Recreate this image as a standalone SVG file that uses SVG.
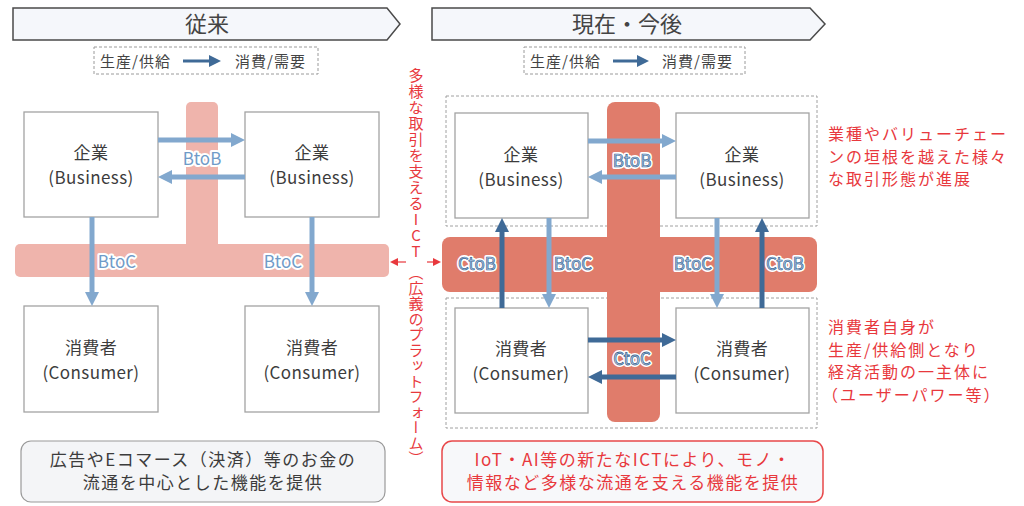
<svg xmlns="http://www.w3.org/2000/svg" width="1024" height="506" viewBox="0 0 1024 506">
<style>
text{font-family:"Noto Sans CJK JP","Noto Sans",sans-serif;}
.hdr{fill:#F5F7FB;stroke:#4a4a4a;stroke-width:1.5;}
.htx{font-size:22px;fill:#444;text-anchor:middle;}
.leg{fill:none;stroke:#9a9a9a;stroke-width:1;stroke-dasharray:3 2;}
.lgt{font-size:15px;fill:#444;letter-spacing:1px;}
.box{fill:#fff;stroke:#a3a3a3;stroke-width:1.3;}
.ntx{font-size:17px;fill:#3c3c3c;text-anchor:middle;letter-spacing:0.4px;}
.dash{fill:none;stroke:#a0a0a0;stroke-width:1;stroke-dasharray:3 2;}
.pink{fill:#EFB4AC;}
.red{fill:#E07C6B;}
.al{stroke:#82A8CE;stroke-width:5;fill:none;}
.ad{stroke:#3F6A97;stroke-width:5;fill:none;}
.lg{stroke:#3F6A97;stroke-width:3;fill:none;}
.halo{font-size:17px;text-anchor:middle;fill:#fff;stroke:#fff;stroke-width:4;stroke-linejoin:round;}
.l1{font-size:17px;text-anchor:middle;fill:#6F9BC8;}
.l2{font-size:17px;text-anchor:middle;fill:#A9C7E6;stroke:#3F6A97;stroke-width:0.7;}
.l3{font-size:17px;text-anchor:middle;fill:#D8E6F3;stroke:#3F6A97;stroke-width:0.8;}
.rt{font-size:16px;fill:#E8383D;letter-spacing:2px;}
.vt{font-size:15px;fill:#E8383D;writing-mode:vertical-rl;text-orientation:upright;}
.bt{font-size:17px;text-anchor:middle;letter-spacing:1.5px;}
</style>
<defs>
<marker id="mL" markerUnits="userSpaceOnUse" markerWidth="14" markerHeight="14" refX="1" refY="7" orient="auto"><path d="M0,0 L14,7 L0,14 z" fill="#82A8CE"/></marker>
<marker id="mD" markerUnits="userSpaceOnUse" markerWidth="14" markerHeight="14" refX="1" refY="7" orient="auto"><path d="M0,0 L14,7 L0,14 z" fill="#3F6A97"/></marker>
<marker id="mG" markerUnits="userSpaceOnUse" markerWidth="12" markerHeight="12" refX="1" refY="6" orient="auto"><path d="M0,0 L12,6 L0,12 z" fill="#3F6A97"/></marker>
<marker id="mR" markerUnits="userSpaceOnUse" markerWidth="8" markerHeight="8" refX="1" refY="4" orient="auto"><path d="M0,0 L8,4 L0,8 z" fill="#E8383D"/></marker>
</defs>

<!-- headers -->
<g id="header-left">
<polygon class="hdr" points="13,8 387,8 400,24 387,40 13,40"/>
<text class="htx" x="207" y="32">従来</text>
</g>
<g id="header-right">
<polygon class="hdr" points="432,8 810,8 825,24 810,40 432,40"/>
<text class="htx" x="627" y="32">現在・今後</text>
</g>

<!-- legends -->
<g id="legend-left">
<rect class="leg" x="94" y="47" width="224" height="27"/>
<text class="lgt" x="100" y="67">生産/供給</text>
<line class="lg" x1="183" y1="61" x2="210" y2="61" marker-end="url(#mG)"/>
<text class="lgt" x="235" y="67">消費/需要</text>
</g>
<g id="legend-right">
<rect class="leg" x="524" y="47" width="221" height="27"/>
<text class="lgt" x="530" y="67">生産/供給</text>
<line class="lg" x1="613" y1="61" x2="638" y2="61" marker-end="url(#mG)"/>
<text class="lgt" x="662" y="67">消費/需要</text>
</g>

<!-- left platform (pink) -->
<g id="platform-left">
<rect class="pink" x="186" y="102" width="32" height="160" rx="5"/>
<rect class="pink" x="15" y="244" width="374" height="33" rx="5"/>
</g>

<!-- right dashed groups and platform -->
<g id="group-business-right"><rect class="dash" x="446" y="96" width="371" height="130"/></g>
<g id="group-consumer-right"><rect class="dash" x="446" y="298" width="371" height="130"/></g>
<g id="platform-right">
<rect class="red" x="607" y="102" width="53" height="320" rx="8"/>
<rect class="red" x="442" y="237" width="375" height="55" rx="8"/>
</g>

<!-- nodes left -->
<g id="biz-l1"><rect class="box" x="24" y="112" width="134" height="105"/><text class="ntx" x="91" y="159">企業</text><text class="ntx" x="91" y="184">(Business)</text></g>
<g id="biz-l2"><rect class="box" x="245" y="112" width="134" height="105"/><text class="ntx" x="312" y="159">企業</text><text class="ntx" x="312" y="184">(Business)</text></g>
<g id="con-l1"><rect class="box" x="24" y="306" width="134" height="106"/><text class="ntx" x="91" y="354">消費者</text><text class="ntx" x="91" y="379">(Consumer)</text></g>
<g id="con-l2"><rect class="box" x="245" y="306" width="134" height="106"/><text class="ntx" x="312" y="354">消費者</text><text class="ntx" x="312" y="379">(Consumer)</text></g>

<!-- nodes right -->
<g id="biz-r1"><rect class="box" x="455" y="113" width="133" height="105"/><text class="ntx" x="521" y="161">企業</text><text class="ntx" x="521" y="186">(Business)</text></g>
<g id="biz-r2"><rect class="box" x="676" y="113" width="133" height="105"/><text class="ntx" x="742" y="161">企業</text><text class="ntx" x="742" y="186">(Business)</text></g>
<g id="con-r1"><rect class="box" x="455" y="308" width="133" height="105"/><text class="ntx" x="521" y="355">消費者</text><text class="ntx" x="521" y="380">(Consumer)</text></g>
<g id="con-r2"><rect class="box" x="676" y="308" width="133" height="105"/><text class="ntx" x="742" y="355">消費者</text><text class="ntx" x="742" y="380">(Consumer)</text></g>

<!-- connectors -->
<g id="connectors">
<line class="al" x1="158" y1="140" x2="232" y2="140" marker-end="url(#mL)"/>
<line class="al" x1="245" y1="177" x2="171" y2="177" marker-end="url(#mL)"/>
<line class="al" x1="92" y1="217" x2="92" y2="293" marker-end="url(#mL)"/>
<line class="al" x1="312" y1="217" x2="312" y2="293" marker-end="url(#mL)"/>

<line class="al" x1="588" y1="141" x2="663" y2="141" marker-end="url(#mL)"/>
<line class="al" x1="676" y1="177" x2="601" y2="177" marker-end="url(#mL)"/>
<line class="ad" x1="502" y1="308" x2="502" y2="231" marker-end="url(#mD)"/>
<line class="al" x1="549" y1="218" x2="549" y2="295" marker-end="url(#mL)"/>
<line class="al" x1="717" y1="218" x2="717" y2="295" marker-end="url(#mL)"/>
<line class="ad" x1="762" y1="308" x2="762" y2="231" marker-end="url(#mD)"/>
<line class="ad" x1="588" y1="340" x2="663" y2="340" marker-end="url(#mD)"/>
<line class="ad" x1="676" y1="377" x2="601" y2="377" marker-end="url(#mD)"/>

<line stroke="#E8383D" stroke-width="1.2" x1="406" y1="262" x2="397" y2="262" marker-end="url(#mR)"/>
<line stroke="#E8383D" stroke-width="1.2" x1="427" y1="262" x2="434" y2="262" marker-end="url(#mR)"/>
</g>

<!-- connector labels -->
<g id="labels">
<text class="halo" x="202" y="165">BtoB</text><text class="l1" x="202" y="165">BtoB</text>
<text class="halo" x="117" y="268">BtoC</text><text class="l1" x="117" y="268">BtoC</text>
<text class="halo" x="283" y="268">BtoC</text><text class="l1" x="283" y="268">BtoC</text>
<text class="halo" x="632" y="167">BtoB</text><text class="l2" x="632" y="167">BtoB</text>
<text class="halo" x="477" y="270">CtoB</text><text class="l2" x="477" y="270">CtoB</text>
<text class="halo" x="573" y="270">BtoC</text><text class="l2" x="573" y="270">BtoC</text>
<text class="halo" x="693" y="270">BtoC</text><text class="l2" x="693" y="270">BtoC</text>
<text class="halo" x="785" y="270">CtoB</text><text class="l2" x="785" y="270">CtoB</text>
<text class="halo" x="632" y="365">CtoC</text><text class="l3" x="632" y="365">CtoC</text>
</g>

<!-- middle vertical text -->
<g id="ict-label">
<text class="vt" x="416" y="68" style="letter-spacing:1px">多様な取引を支えるICT</text>
<text class="vt" x="416" y="265" style="letter-spacing:0.5px">（広義のプラットフォーム）</text>
</g>

<!-- right annotations -->
<g id="note-business">
<text class="rt" x="828" y="140">業種やバリューチェー</text>
<text class="rt" x="828" y="163">ンの垣根を越えた様々</text>
<text class="rt" x="828" y="185">な取引形態が進展</text>
</g>
<g id="note-consumer">
<text class="rt" x="828" y="333">消費者自身が</text>
<text class="rt" x="828" y="356">生産/供給側となり</text>
<text class="rt" x="828" y="378">経済活動の一主体に</text>
<text class="rt" x="822" y="401">（ユーザーパワー等）</text>
</g>

<!-- bottom boxes -->
<g id="summary-left">
<rect x="21" y="441" width="364" height="61" rx="10" fill="#F4F5F7" stroke="#9a9a9a" stroke-width="1.2"/>
<text class="bt" x="203" y="466" fill="#3c3c3c">広告やEコマース（決済）等のお金の</text>
<text class="bt" x="203" y="489" fill="#3c3c3c">流通を中心とした機能を提供</text>
</g>
<g id="summary-right">
<rect x="442" y="441" width="381" height="61" rx="10" fill="#F7F8FA" stroke="#E8484A" stroke-width="1.5"/>
<text class="bt" x="633" y="466" fill="#E8383D">IoT・AI等の新たなICTにより、モノ・</text>
<text class="bt" x="633" y="489" fill="#E8383D">情報など多様な流通を支える機能を提供</text>
</g>
</svg>
